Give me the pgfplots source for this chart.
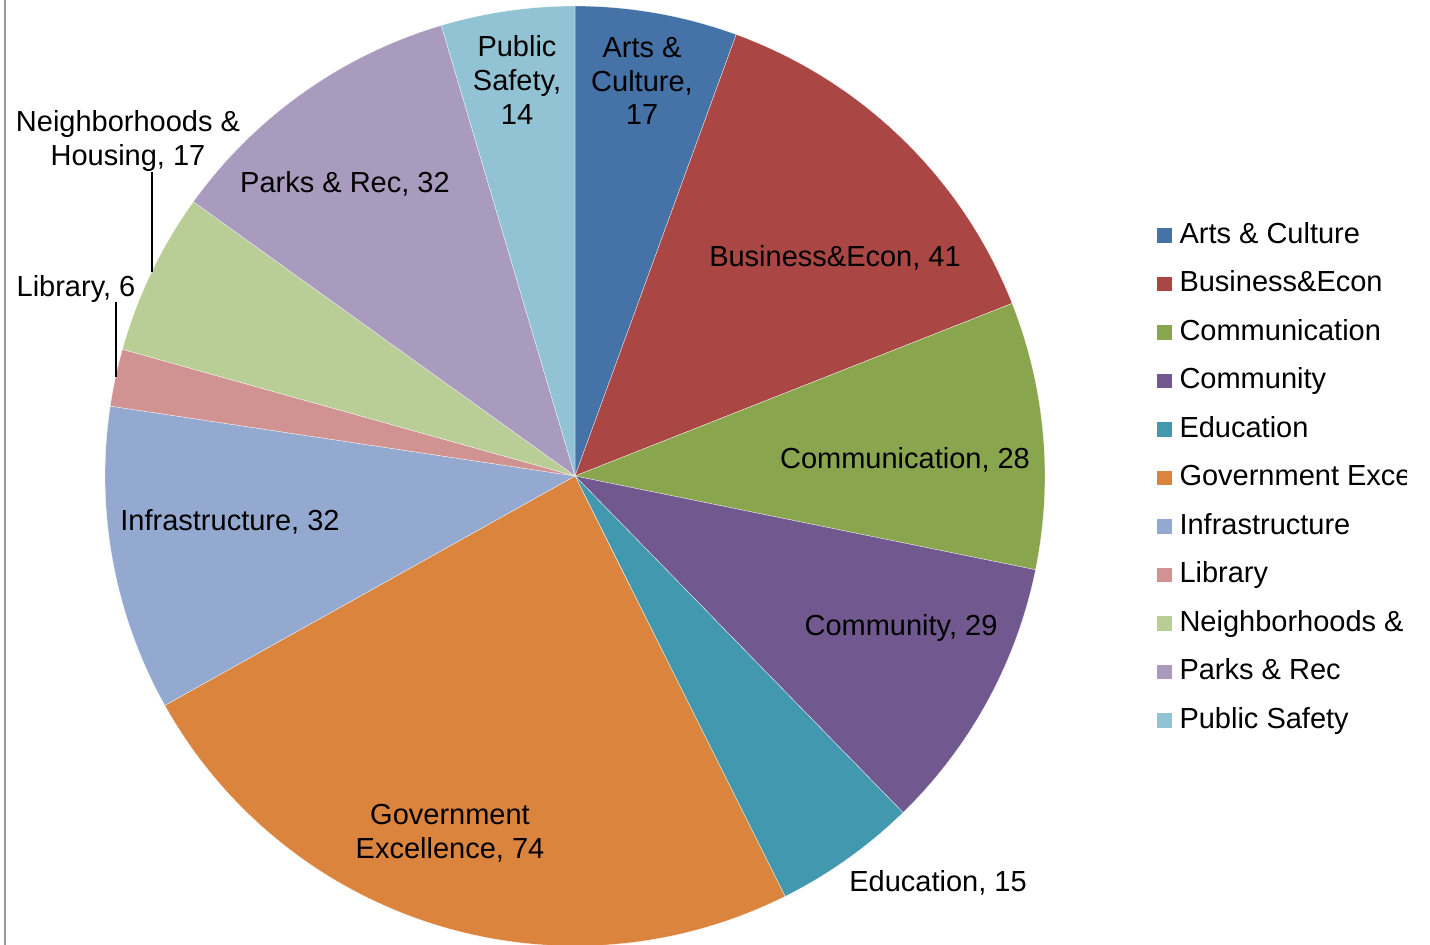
\documentclass[border=0pt]{standalone}
\usepackage{fontspec}
\setmainfont{Liberation Sans}
\usepackage{pgfplots}
\usepackage{pgfplotstable}
\pgfplotsset{compat=1.18}

\definecolor{pc0}{HTML}{4572A7}
\definecolor{pc1}{HTML}{AA4643}
\definecolor{pc2}{HTML}{89A54E}
\definecolor{pc3}{HTML}{71588F}
\definecolor{pc4}{HTML}{4198AF}
\definecolor{pc5}{HTML}{DB843D}
\definecolor{pc6}{HTML}{93A9CF}
\definecolor{pc7}{HTML}{D19392}
\definecolor{pc8}{HTML}{B9CD96}
\definecolor{pc9}{HTML}{A99BBD}
\definecolor{pc10}{HTML}{92C3D4}

\newcommand\lf{\fontsize{14.5bp}{16.8bp}\selectfont}

% slice values, clockwise from 12 o'clock
\pgfplotstableread{
value
17
41
28
29
15
74
32
6
17
32
14
}\piedata

\begin{document}
\begin{tikzpicture}[lbl/.style={font=\lf, align=center, inner sep=0pt}]
\begin{axis}[
  name=ax, at={(0,0)}, anchor=south west,
  width=715bp, height=472.5bp, scale only axis,
  xmin=0, xmax=1430, ymin=0, ymax=945,
  hide axis, clip=false,
  legend entries={Arts \& Culture, Business\&Econ, Communication, Community, Education, Government Excellence, Infrastructure, Library, Neighborhoods \&, Parks \& Rec, Public Safety},
  legend style={at={(axis cs:1157,466.5)}, anchor=west, draw=none, fill=none,
    inner sep=0pt, outer sep=0pt, font=\lf, row sep=10.75bp, column sep=4bp,
    nodes={inner sep=0pt, text height=10.5bp, text depth=3bp}},
  legend cell align=left,
  legend image code/.code={\fill[#1, draw=none] (0bp,-3.5bp) rectangle (7.25bp,3.75bp);},
]
\def\total{0}
\pgfplotsforeachungrouped \i in {0,...,10}{%
  \pgfplotstablegetelem{\i}{value}\of\piedata
  \pgfmathsetmacro{\total}{\total+\pgfplotsretval}}
\def\cum{0}
\pgfplotsforeachungrouped \i in {0,...,10}{%
  \pgfplotstablegetelem{\i}{value}\of\piedata
  \pgfmathsetmacro{\angA}{90-360*(\cum/\total)}
  \pgfmathsetmacro{\cum}{\cum+\pgfplotsretval}
  \pgfmathsetmacro{\angB}{90-360*(\cum/\total)}
  \edef\slice{\noexpand\addplot[fill=pc\i, draw=white, line width=0.12bp,
    domain=\angB:\angA, samples=90]
    ({575+470*cos(x)},{469+470*sin(x)}) -- (axis cs:575,469) -- cycle;}%
  \slice
}
% chart border on the left
\draw[color=black!40, line width=1bp] (axis cs:5,0) -- (axis cs:5,945);
% leader lines
\draw[black, line width=0.9bp] (axis cs:152,773) -- (axis cs:152,673);
\draw[black, line width=0.9bp] (axis cs:116,643) -- (axis cs:116,568);
% data labels
\node[lbl] at (axis cs:642,864) {Arts \&\\Culture,\\17};
\node[lbl] at (axis cs:517,865) {Public\\Safety,\\14};
\node[lbl] at (axis cs:835,687) {Business\&Econ, 41};
\node[lbl] at (axis cs:905,485) {Communication, 28};
\node[lbl] at (axis cs:901,317) {Community, 29};
\node[lbl] at (axis cs:938,62) {Education, 15};
\node[lbl] at (axis cs:450,112) {Government\\Excellence, 74};
\node[lbl] at (axis cs:230,423) {Infrastructure, 32};
\node[lbl] at (axis cs:76,656) {Library, 6};
\node[lbl] at (axis cs:128,804) {Neighborhoods \&\\Housing, 17};
\node[lbl] at (axis cs:345,761) {Parks \& Rec, 32};
\end{axis}
% legend text is cut short at the chart area's right edge
\fill[white] (703.5bp,75bp) rectangle (716bp,400bp);
\pgfresetboundingbox
\path[use as bounding box] (ax.south west) rectangle (ax.north east);
\end{tikzpicture}
\end{document}
